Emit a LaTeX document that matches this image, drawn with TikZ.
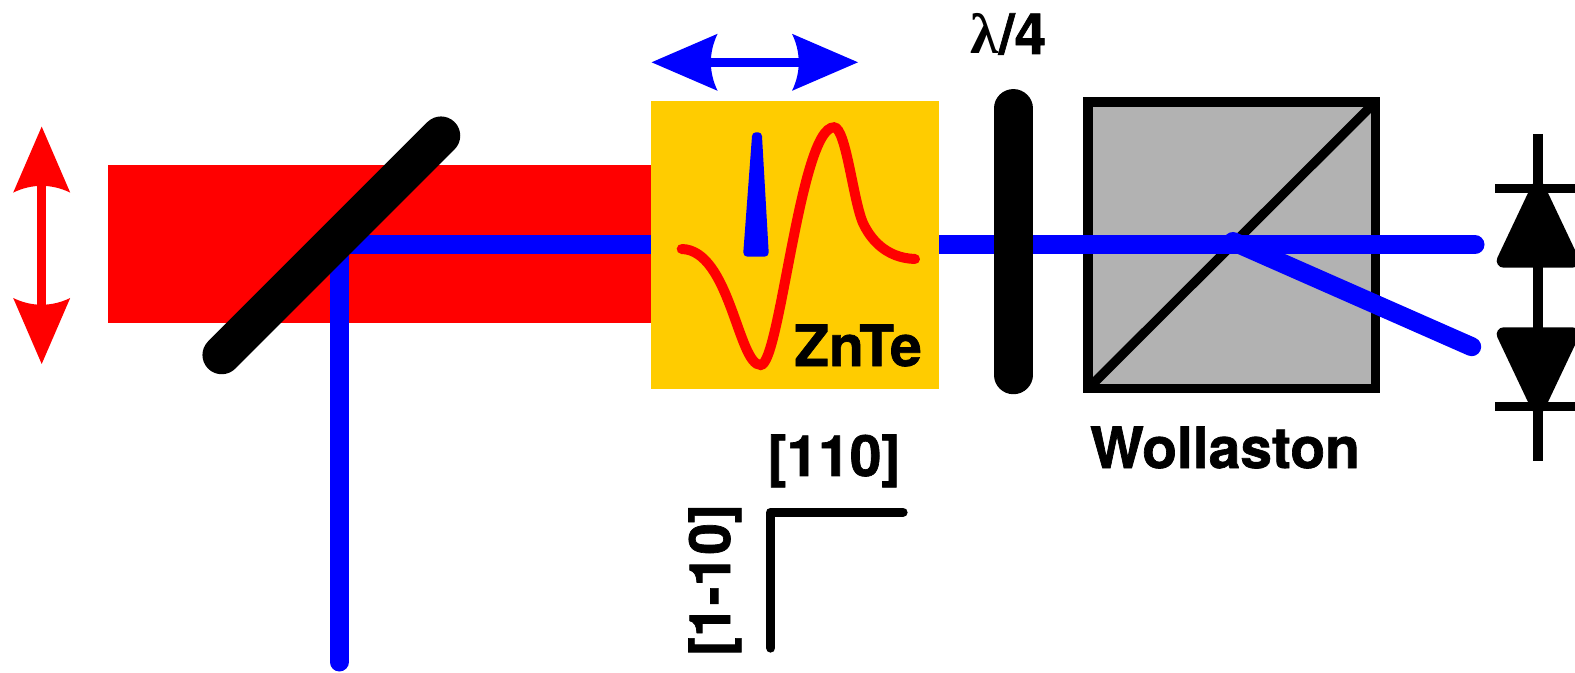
\documentclass[tikz,border=0pt]{standalone}
\usepackage{fontspec}
\setmainfont{TeX Gyre Heros}[BoldFeatures={FakeBold=1.2}]
\newfontfamily\eoserif{Liberation Serif}
\usetikzlibrary{positioning,calc}
\definecolor{eovermelho}{HTML}{FF0000}
\definecolor{eoazul}{HTML}{0000FF}
\definecolor{eoamarelo}{HTML}{FFCC00}
\definecolor{eocinza}{HTML}{B2B2B2}
\tikzset{
  eofeixe/.style={draw=eoazul, line width=0.19cm, line cap=round},
  eolamina/.style={draw=black, line width=0.385cm, line cap=round},
  eotraco/.style={draw=black, line width=0.093cm},
  eofotodiodo/.style={fill=black, draw=black, line width=0.14cm, line join=round},
  eorotulo/.style={font=\fontsize{16.2}{18}\selectfont\bfseries, text=black, inner sep=0pt, anchor=base},
  eoseta/.pic={
    \draw[line width=0.093cm] ({-#1+0.5},0) -- ({#1-0.5},0);
    \fill ({#1},0) -- ({#1-0.66},0.285) .. controls ({#1-0.57},0.1) and ({#1-0.57},-0.1) .. ({#1-0.66},-0.285) -- cycle;
    \fill ({-#1},0) -- ({-#1+0.66},0.285) .. controls ({-#1+0.57},0.1) and ({-#1+0.57},-0.1) .. ({-#1+0.66},-0.285) -- cycle;
  },
}
\begin{document}
\begin{tikzpicture}
        \path[use as bounding box, clip] (0,0) rectangle (15.75,6.72);
        \pic[color=eovermelho, rotate=90] (polarizacao) at (0.417,4.267) {eoseta=1.187};
        \pic[color=eoazul] (varredura) at (7.548,6.097) {eoseta=1.032};
        \fill[eovermelho] (1.08,5.07) rectangle (6.6,3.493);
        \filldraw[fill=eocinza, eotraco] (10.88,5.70) rectangle (13.753,2.833);
        \draw[eotraco] (10.88,2.833) -- (13.753,5.70);
        \coordinate (canto) at (3.393,4.273);
        \draw[eofeixe] (canto) -- (14.75,4.273);
        \draw[eofeixe] (canto) -- (3.393,0.10);
        \draw[eofeixe] (12.33,4.305) -- (14.717,3.253);
        \draw[eolamina] (4.41,5.363) -- (2.217,3.17);
        \fill[eoamarelo] (6.51,5.713) rectangle (9.39,2.83);
        \draw[line width=0.1cm, eovermelho, line cap=round] (6.817,4.23) .. controls (7.30,4.22) and (7.38,3.07) .. (7.607,3.07) .. controls (7.80,3.07) and (8.00,5.447) .. (8.34,5.447) .. controls (8.46,5.447) and (8.53,4.72) .. (8.63,4.49) .. controls (8.70,4.34) and (8.85,4.14) .. (9.15,4.13);
        \filldraw[eoazul, line width=0.08cm, line join=round] (7.56,5.357) -- (7.58,5.357) -- (7.647,4.193) -- (7.473,4.193) -- cycle;
        \node[eorotulo] (cristal) at (8.58,3.06) {ZnTe};
        \draw[eolamina] (10.133,5.637) -- (10.133,2.97);
        \node[eorotulo] (quarto) at (10.085,6.18) {{\eoserif λ}/4};
        \node[eorotulo] (wollaston) at (12.25,2.04) {Wollaston};
        \draw[eotraco] (15.38,5.38) -- (15.38,2.11);
        \draw[eotraco] (14.95,4.833) -- (15.81,4.833);
        \draw[eotraco] (14.95,2.653) -- (15.81,2.653);
        \filldraw[eofotodiodo] (15.38,4.838) -- (15.037,4.113) -- (15.723,4.113) -- cycle;
        \filldraw[eofotodiodo] (15.38,2.652) -- (15.037,3.377) -- (15.723,3.377) -- cycle;
        \node[eorotulo] (eixo110) at (8.34,1.96) {[110]};
        \node[eorotulo, rotate=90] (eixo1m10) at (7.30,0.92) {[1-10]};
        \draw[eotraco, line cap=round, line join=round] (9.03,1.597) -- (7.707,1.597) -- (7.707,0.24);
    \end{tikzpicture}
\end{document}
